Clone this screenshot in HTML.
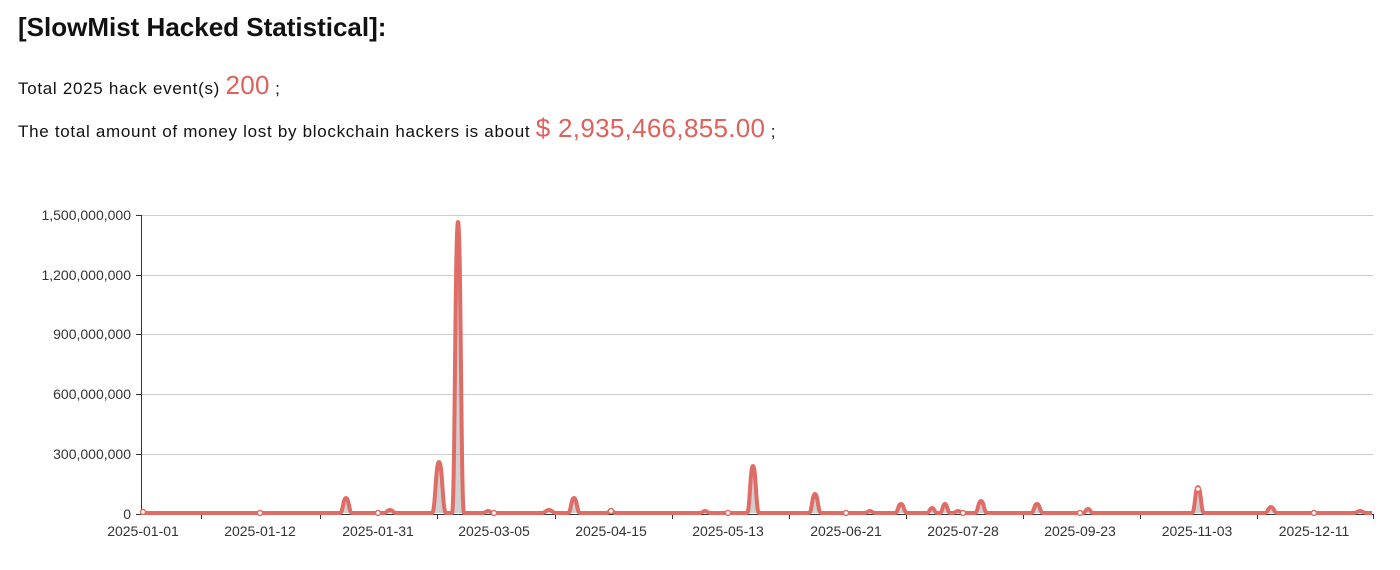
<!DOCTYPE html>
<html><head><meta charset="utf-8"><style>
body{margin:0;width:1400px;height:570px;background:#fff;font-family:"Liberation Sans",sans-serif;color:#111;overflow:hidden;position:relative}
.t{position:absolute;left:18px;top:12px;font-size:26px;font-weight:bold;letter-spacing:0px}
.l{position:absolute;left:18px;font-size:17px;letter-spacing:0.7px;white-space:nowrap}
.r{color:#e0605a;font-size:26px;letter-spacing:0.3px}
</style></head><body>
<div class="t">[SlowMist Hacked Statistical]:</div>
<div class="l" style="top:70px">Total 2025 hack event(s) <span class="r">200</span> ;</div>
<div class="l" style="top:113px">The total amount of money lost by blockchain hackers is about <span class="r">$ 2,935,466,855.00</span> ;</div>
<svg width="1400" height="570" style="position:absolute;left:0;top:0" font-family="Liberation Sans, sans-serif" font-size="14" fill="#333">
<g stroke="#ccc" stroke-width="1">
<line x1="141" y1="215.5" x2="1373" y2="215.5"/><line x1="141" y1="275.5" x2="1373" y2="275.5"/>
<line x1="141" y1="334.5" x2="1373" y2="334.5"/><line x1="141" y1="394.5" x2="1373" y2="394.5"/>
<line x1="141" y1="454.5" x2="1373" y2="454.5"/>
</g>
<g stroke="#333" stroke-width="1">
<line x1="141.5" y1="215" x2="141.5" y2="514"/><line x1="136" y1="215.5" x2="141" y2="215.5"/><line x1="136" y1="275.5" x2="141" y2="275.5"/><line x1="136" y1="334.5" x2="141" y2="334.5"/><line x1="136" y1="394.5" x2="141" y2="394.5"/><line x1="136" y1="454.5" x2="141" y2="454.5"/><line x1="136" y1="514.5" x2="141" y2="514.5"/>
<line x1="141" y1="514.5" x2="1374" y2="514.5"/>
<path d="M201.5 514v5M320.5 514v5M437.5 514v5M555.5 514v5M672.5 514v5M789.5 514v5M906.5 514v5M1023.5 514v5M1140.5 514v5M1257.5 514v5M1373.5 514v5"/>
</g>
<g text-anchor="end">
<text x="131" y="220">1,500,000,000</text><text x="131" y="280">1,200,000,000</text><text x="131" y="339">900,000,000</text><text x="131" y="399">600,000,000</text><text x="131" y="459">300,000,000</text><text x="131" y="519">0</text>
</g>
<g text-anchor="middle">
<text x="143" y="536">2025-01-01</text><text x="260" y="536">2025-01-12</text><text x="378" y="536">2025-01-31</text><text x="494" y="536">2025-03-05</text><text x="611" y="536">2025-04-15</text><text x="728" y="536">2025-05-13</text><text x="846" y="536">2025-06-21</text><text x="963" y="536">2025-07-28</text><text x="1080" y="536">2025-09-23</text><text x="1197" y="536">2025-11-03</text><text x="1314" y="536">2025-12-11</text>
</g>
<path id="p" fill="rgba(150,150,150,0.45)" stroke="#e06c66" stroke-width="4" stroke-linejoin="round" d="M141,513 L340,513 C343,513 343,498 346,498 C349,498 349,513 352,513 L384,513 C387,513 387,510 390,510 C393,510 393,513 396,513 L432,513 C435.5,513 435.5,462 439,462 C442.5,462 442.5,513 446,513 L452,513 C455,513 455,222 458,222 C461,222 461,513 464,513 L483,513 C485.5,513 485.5,511 488,511 C490.5,511 490.5,513 493,513 L542,513 C545.5,513 545.5,510 549,510 C552.5,510 552.5,513 556,513 L568,513 C571,513 571,498 574,498 C577,498 577,513 580,513 L607,513 C609,513 609,510 611,510 C613,510 613,513 615,513 L700,513 C702.5,513 702.5,511 705,511 C707.5,511 707.5,513 710,513 L747,513 C750,513 750,466 753,466 C756,466 756,513 759,513 L809,513 C812,513 812,494 815,494 C818,494 818,513 821,513 L865,513 C867.5,513 867.5,511 870,511 C872.5,511 872.5,513 875,513 L895,513 C898,513 898,504 901,504 C904,504 904,513 907,513 L927,513 C929.5,513 929.5,508 932,508 C934.5,508 934.5,513 937,513 L940,513 C942.5,513 942.5,504 945,504 C947.5,504 947.5,513 950,513 L953,513 C955.5,513 955.5,511 958,511 C960.5,511 960.5,513 963,513 L975,513 C978,513 978,501 981,501 C984,501 984,513 987,513 L1031,513 C1034,513 1034,504 1037,504 C1040,504 1040,513 1043,513 L1083,513 C1085.5,513 1085.5,509 1088,509 C1090.5,509 1090.5,513 1093,513 L1192,513 C1195,513 1195,487 1198,487 C1201,487 1201,513 1204,513 L1265,513 C1268,513 1268,507 1271,507 C1274,507 1274,513 1277,513 L1354,513 C1357,513 1357,511 1360,511 C1363,511 1363,513 1366,513 L1372,513"/>
<g fill="#fff" stroke="#e06c66" stroke-width="1.5">
<circle cx="143" cy="512" r="2.5"/><circle cx="260" cy="513" r="2.5"/><circle cx="378" cy="513" r="2.5"/><circle cx="494" cy="513" r="2.5"/><circle cx="611" cy="511" r="2.5"/><circle cx="728" cy="513" r="2.5"/><circle cx="846" cy="513" r="2.5"/><circle cx="963" cy="513" r="2.5"/><circle cx="1080" cy="513" r="2.5"/><circle cx="1198" cy="489" r="2.5"/><circle cx="1314" cy="513" r="2.5"/>
</g>
</svg>
</body></html>
